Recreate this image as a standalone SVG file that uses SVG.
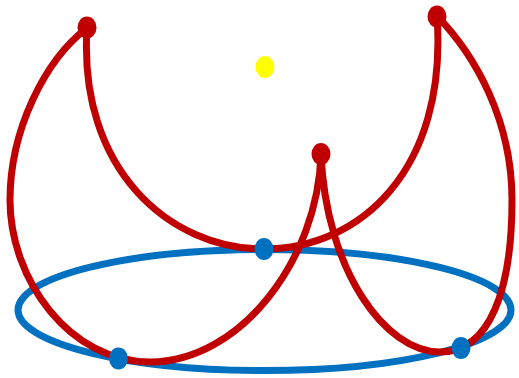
<svg xmlns="http://www.w3.org/2000/svg" width="519" height="378" viewBox="0 0 519 378">
<style>
.ring{fill:none;stroke:#0070C0;stroke-width:7}
.edge{fill:none;stroke:#C00000;stroke-width:7;stroke-linecap:round}
.red{fill:#C00000}
.blue{fill:#0070C0}
.yellow{fill:#FFFF00}
</style>
<rect width="519" height="378" fill="#FFFFFF"/>
<g id="ring"><ellipse class="ring" cx="264.5" cy="310" rx="246.5" ry="60.5"/></g>
<g id="connectors">
<path class="edge" d="M87,28 C78,170 170,249 264,249 C360,249 448,170 437,16"/>
<path class="edge" d="M87,28 C45,60 10,130 10,200 C10,280 70,362 150,362 C240,362 318,260 321,154"/>
<path class="edge" d="M321,154 C326,270 385,352 440,352 C490,352 512,290 512,200 C512,120 475,55 437,16"/>
</g>
<g id="r1"><ellipse class="red" cx="87" cy="27.5" rx="9.5" ry="11"/></g>
<g id="r2"><ellipse class="red" cx="437" cy="16.5" rx="9.5" ry="11"/></g>
<g id="r3"><ellipse class="red" cx="321" cy="154" rx="9.5" ry="11"/></g>
<g id="y1"><ellipse class="yellow" cx="265" cy="67" rx="9.5" ry="11"/></g>
<g id="b1"><ellipse class="blue" cx="264" cy="249" rx="9.5" ry="11"/></g>
<g id="b2"><ellipse class="blue" cx="118.5" cy="358.5" rx="9.5" ry="11"/></g>
<g id="b3"><ellipse class="blue" cx="461" cy="348" rx="9.5" ry="11"/></g>
</svg>
